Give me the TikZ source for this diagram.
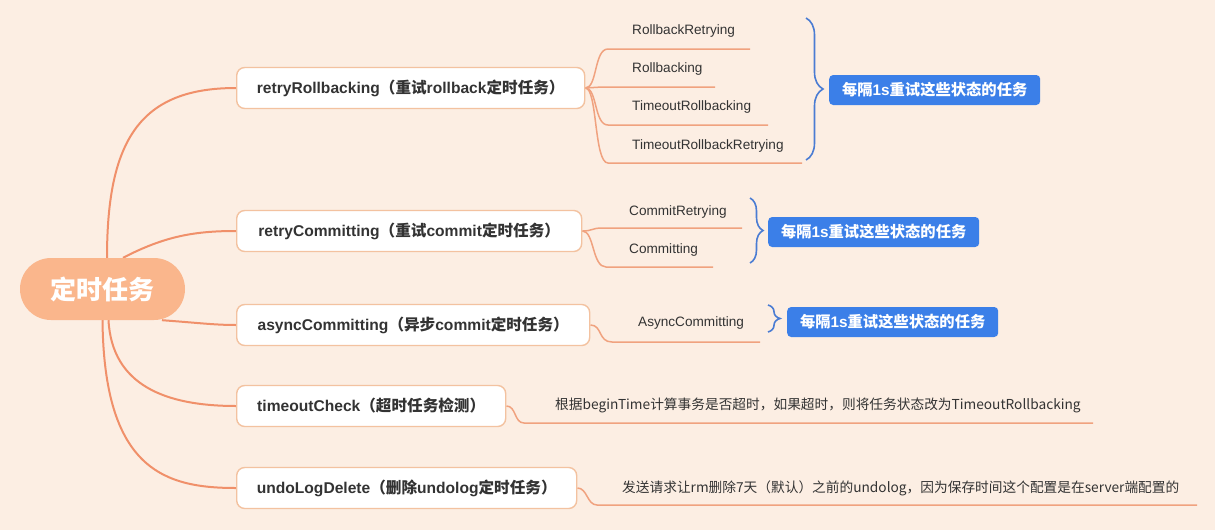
\documentclass[tikz,border=0pt]{standalone}
\usepackage{fontspec}
\setmainfont{Liberation Sans}
\newfontfamily\cjk{Noto Sans CJK SC}
\newcommand\zh[1]{{\cjk #1}}
\usetikzlibrary{decorations.pathreplacing}
\pgfdeclarelayer{bgl}
\pgfdeclarelayer{edges}
\pgfsetlayers{bgl,edges,main}
\definecolor{bgc}{HTML}{FCEEE3}
\definecolor{rootc}{HTML}{FAB68C}
\definecolor{linec}{HTML}{F0906A}
\definecolor{boxb}{HTML}{F3C2A0}
\definecolor{ulc}{HTML}{F0A27F}
\definecolor{bracec}{HTML}{4A7CD3}
\definecolor{tagc}{HTML}{3B7FE8}
\definecolor{txt}{HTML}{333333}
\begin{document}
\begin{tikzpicture}[x=1pt,y=-1pt,
  rootnode/.style={fill=rootc, rounded corners=31pt, minimum width=165pt, minimum height=62pt, inner sep=0pt, text=white, font=\cjk\fontsize{26}{30}\selectfont\bfseries},
  mainbox/.style={draw=boxb, line width=1.4pt, fill=white, rounded corners=8pt, minimum height=41pt, inner xsep=18pt, anchor=west, text=txt, font=\fontsize{15.6}{18}\selectfont\bfseries},
  leaf/.style={anchor=west, inner sep=0pt, text=txt, font=\fontsize{13.6}{16}\selectfont},
  note/.style={anchor=west, inner sep=0pt, text=txt, font=\cjk\fontsize{13.7}{16}\selectfont},
  tag/.style={fill=tagc, rounded corners=4pt, anchor=west, minimum height=30pt, minimum width=211pt, inner xsep=8pt, text=white, font=\fontsize{15.3}{17}\selectfont\bfseries},
  branch/.style={draw=linec, line width=2pt},
  sub/.style={draw=ulc, line width=1.5pt},
  bracestyle/.style={draw=bracec, line width=1.6pt, decorate, decoration={brace, amplitude=#1}},
]
\useasboundingbox (0,0) rectangle (1215,530);
\begin{pgfonlayer}{bgl}
\fill[bgc] (0,0) rectangle (1215,530);
\end{pgfonlayer}

% root
\node[rootnode] (root) at (102.5,289) {定时任务};

% main boxes
\node[mainbox, minimum width=348pt] (rr) at (236,88) {retryRollbacking\zh{（重试}rollback\zh{定时任务）}};
\node[mainbox, minimum width=345pt] (rc) at (236,231) {retryCommitting\zh{（重试}commit\zh{定时任务）}};
\node[mainbox, minimum width=353pt] (ac) at (236,325) {asyncCommitting\zh{（异步}commit\zh{定时任务）}};
\node[mainbox, minimum width=269pt] (tc) at (236,406) {timeoutCheck\zh{（超时任务检测）}};
\node[mainbox, minimum width=340pt] (ud) at (236,488) {undoLogDelete\zh{（删除}undolog\zh{定时任务）}};

% leaves
\node[leaf] (l1) at (632,31) {RollbackRetrying};
\node[leaf] (l2) at (632,69) {Rollbacking};
\node[leaf] (l3) at (632,107) {TimeoutRollbacking};
\node[leaf] (l4) at (632,146) {TimeoutRollbackRetrying};
\node[leaf] (c1) at (629,212) {CommitRetrying};
\node[leaf] (c2) at (629,250) {Committing};
\node[leaf] (a1) at (638,323) {AsyncCommitting};
\node[note] (t1) at (555,405) {根据beginTime计算事务是否超时，如果超时，则将任务状态改为TimeoutRollbacking};
\node[note] (u1) at (622,488) {发送请求让rm删除7天（默认）之前的undolog，因为保存时间这个配置是在server端配置的};

% underline coordinates
\coordinate (l1s) at (608,49);  \coordinate (l1e) at (750,49);
\coordinate (l2s) at (602,87);  \coordinate (l2e) at (715,87);
\coordinate (l3s) at (608,125); \coordinate (l3e) at (768,125);
\coordinate (l4s) at (608,163); \coordinate (l4e) at (802,163);
\coordinate (c1s) at (602,228); \coordinate (c1e) at (742,228);
\coordinate (c2s) at (606,267); \coordinate (c2e) at (713,267);
\coordinate (a1s) at (612,342); \coordinate (a1e) at (760,342);
\coordinate (t1s) at (524,423); \coordinate (t1e) at (1093,423);
\coordinate (u1s) at (597,505); \coordinate (u1e) at (1197,505);

% tags
\node[tag] (g1) at (829,90) {\zh{每隔}1s\zh{重试这些状态的任务}};
\node[tag] (g2) at (768,232) {\zh{每隔}1s\zh{重试这些状态的任务}};
\node[tag] (g3) at (787,322) {\zh{每隔}1s\zh{重试这些状态的任务}};

% braces
\coordinate (b1t) at (806,18);  \coordinate (b1b) at (806,160);
\coordinate (b2t) at (750,198); \coordinate (b2b) at (750,263);
\coordinate (b3t) at (768,305); \coordinate (b3b) at (768,332);
\draw[bracestyle=17pt] (b1t) -- (b1b);
\draw[bracestyle=13pt] (b2t) -- (b2b);
\draw[bracestyle=12pt] (b3t) -- (b3b);

\begin{pgfonlayer}{edges}
\draw[branch] ([xshift=4.5pt]root.north) .. controls (107,140) and (140,88) .. (rr.west);
\draw[branch] ([xshift=20.5pt]root.north) .. controls (165,236) and (195,231) .. (rc.west);
\draw[branch] ([xshift=59.5pt]root.south) .. controls (200,323) and (215,325) .. (ac.west);
\draw[branch] ([xshift=6pt]root.south) .. controls (112,385) and (165,406) .. (tc.west);
\draw[branch] ([xshift=0pt]root.south) .. controls (104,470) and (165,488) .. (ud.west);

\draw[sub] (rr.east) .. controls +(12,0) and +(-14,0) .. (l1s) -- (l1e);
\draw[sub] (rr.east) .. controls +(8,0) and +(-8,0) .. (l2s) -- (l2e);
\draw[sub] (rr.east) .. controls +(12,0) and +(-14,0) .. (l3s) -- (l3e);
\draw[sub] (rr.east) .. controls +(12,0) and +(-14,0) .. (l4s) -- (l4e);
\draw[sub] (rc.east) .. controls +(10,0) and +(-10,0) .. (c1s) -- (c1e);
\draw[sub] (rc.east) .. controls +(12,0) and +(-14,0) .. (c2s) -- (c2e);
\draw[sub] (ac.east) .. controls +(12,0) and +(-14,0) .. (a1s) -- (a1e);
\draw[sub] (tc.east) .. controls +(10,0) and +(-10,0) .. (t1s) -- (t1e);
\draw[sub] (ud.east) .. controls +(10,0) and +(-10,0) .. (u1s) -- (u1e);
\end{pgfonlayer}
\end{tikzpicture}
\end{document}
